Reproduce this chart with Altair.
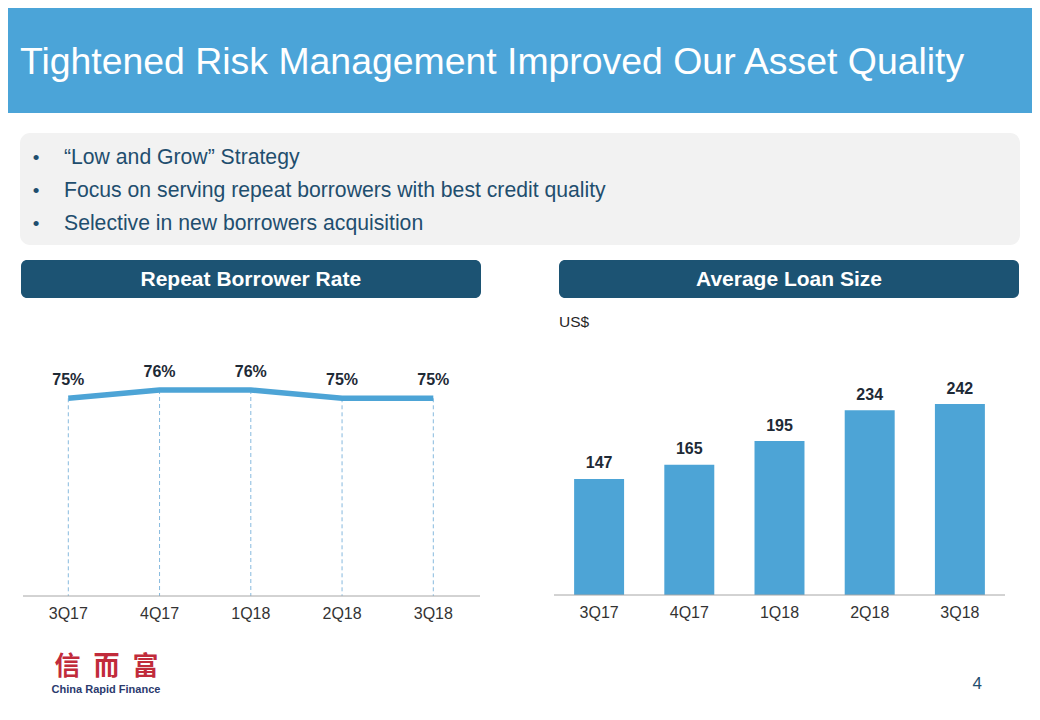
import altair as alt
import pandas as pd

# ---------------- data ----------------
quarters = ["3Q17", "4Q17", "1Q18", "2Q18", "3Q18"]
repeat_rate = [75, 76, 76, 75, 75]
loan_size = [147, 165, 195, 234, 242]
bullets = [
    "\u201cLow and Grow\u201d Strategy",
    "Focus on serving repeat borrowers with best credit quality",
    "Selective in new borrowers acquisition",
]
title = "Tightened Risk Management Improved Our Asset Quality"
left_title = "Repeat Borrower Rate"
right_title = "Average Loan Size"
unit_label = "US$"
page_no = "4"
logo_cn = "\u4fe1\u2002\u800c\u2002\u5bcc"
logo_en = "China Rapid Finance"

# ---------------- styles ----------------
FONT = "Liberation Sans"
BLUE = "#4DA4D6"
DARK = "#1C5373"
TEXT = "#1F4E6E"
LABEL = "#1E2A36"

one = pd.DataFrame({"k": [0]})


def rect(x, x2, y, y2, color, r=0):
    return alt.Chart(one).mark_rect(color=color, cornerRadius=r).encode(
        x=alt.value(x), x2=alt.value(x2), y=alt.value(y), y2=alt.value(y2)
    )


def label(text, x, y, size, color, weight="normal", align="left",
          baseline="middle", font=FONT):
    return alt.Chart(one).mark_text(
        text=text, font=font, fontSize=size, color=color, fontWeight=weight,
        align=align, baseline=baseline
    ).encode(x=alt.value(x), y=alt.value(y))


def hline(x, x2, y, color):
    return alt.Chart(one).mark_rule(color=color, strokeWidth=1).encode(
        x=alt.value(x), x2=alt.value(x2), y=alt.value(y)
    )


# ---------------- decoration ----------------
header = rect(0, 1024, 0, 105, "#4BA4D8")
title_t = label(title, 12, 65.5, 37.4, "white", baseline="alphabetic")
box = rect(12, 1012, 125, 237, "#F2F2F2", 10)

bul_df = pd.DataFrame({"i": list(range(len(bullets))), "t": bullets,
                       "dot": ["\u2022"] * len(bullets)})
bul_y = alt.Y("i:O", scale=alt.Scale(type="point", range=[149.5, 215.5], padding=0), axis=None)
bul_text = alt.Chart(bul_df).mark_text(
    font=FONT, fontSize=21.2, color=TEXT, align="left", baseline="middle"
).encode(x=alt.value(56), y=bul_y, text="t:N")
bul_dot = alt.Chart(bul_df).mark_text(
    font=FONT, fontSize=19, color=TEXT, align="center", baseline="middle"
).encode(x=alt.value(28), y=bul_y, text="dot:N")
bullet_layer = alt.layer(bul_dot, bul_text)

lhead = rect(13, 473, 252, 290, DARK, 6)
rhead = rect(551, 1011, 252, 290, DARK, 6)
lhead_t = label(left_title, 242.8, 272, 21, "white", "bold", "center")
rhead_t = label(right_title, 781, 272, 21, "white", "bold", "center")
unit_t = label(unit_label, 551, 314, 15.5, "#262626")

logo1 = label(logo_cn, 98.5, 659, 26, "#C12B3B", "bold", "center",
              font="Noto Sans CJK SC")
logo2 = label(logo_en, 98, 681.5, 11, "#2B3A6E", "bold", "center")
page_t = label(page_no, 969.3, 675.5, 17, TEXT, align="center")

# ---------------- line chart ----------------
rate_df = pd.DataFrame({"q": quarters, "v": repeat_rate,
                        "lab": [f"{v}%" for v in repeat_rate]})
xl = alt.X("q:N", sort=quarters,
           scale=alt.Scale(type="point", range=[60.3, 425.3], padding=0), axis=None)
yl = alt.Y("v:Q", scale=alt.Scale(domain=[75, 76], range=[390.3, 382], nice=False, zero=False),
           axis=None)
base_l = alt.Chart(rate_df)
l_rules = base_l.mark_rule(color="#86B9DE", strokeWidth=1, strokeDash=[4, 3]).encode(
    x=xl, y=yl, y2=alt.value(588))
l_line = base_l.mark_line(color=BLUE, strokeWidth=5.5).encode(x=xl, y=yl)
l_lab = base_l.mark_text(font=FONT, fontSize=16, fontWeight="bold", color=LABEL,
                         dy=-18.5, baseline="middle").encode(x=xl, y=yl, text="lab:N")
l_axis = hline(15, 472, 588, "#A6A6A6")
l_ticks = base_l.mark_text(font=FONT, fontSize=16, color="#333333",
                           baseline="middle").encode(x=xl, y=alt.value(606), text="q:N")
line_chart = alt.layer(l_rules, l_axis, l_line, l_lab, l_ticks)

# ---------------- bar chart ----------------
loan_df = pd.DataFrame({"q": quarters, "v": loan_size})
xb = alt.X("q:N", sort=quarters,
           scale=alt.Scale(type="band", range=[546, 997], paddingInner=0.446,
                           paddingOuter=0.223), axis=None)
yb = alt.Y("v:Q", scale=alt.Scale(domain=[0, 242], range=[587, 396], nice=False, zero=True),
           axis=None)
base_b = alt.Chart(loan_df)
b_bars = base_b.mark_bar(color=BLUE).encode(x=xb, y=yb)
b_lab = base_b.mark_text(font=FONT, fontSize=16, fontWeight="bold", color=LABEL,
                         dy=-15.5, baseline="middle").encode(x=xb, y=yb, text="v:Q")
b_axis = hline(546, 997, 587, "#A6A6A6")
b_ticks = base_b.mark_text(font=FONT, fontSize=16, color="#333333",
                           baseline="middle").encode(x=xb, y=alt.value(605), text="q:N")
bar_chart = alt.layer(b_bars, b_axis, b_lab, b_ticks)

chart = alt.layer(
    header, title_t, box, bullet_layer, lhead, rhead, lhead_t, rhead_t, unit_t,
    line_chart, bar_chart, logo1, logo2, page_t
).resolve_scale(x="independent", y="independent").properties(
    width=1024, height=704, padding=0, background="white"
).configure_view(stroke=None)

chart.save("out.html", embed_options={"renderer": "svg", "actions": False})
